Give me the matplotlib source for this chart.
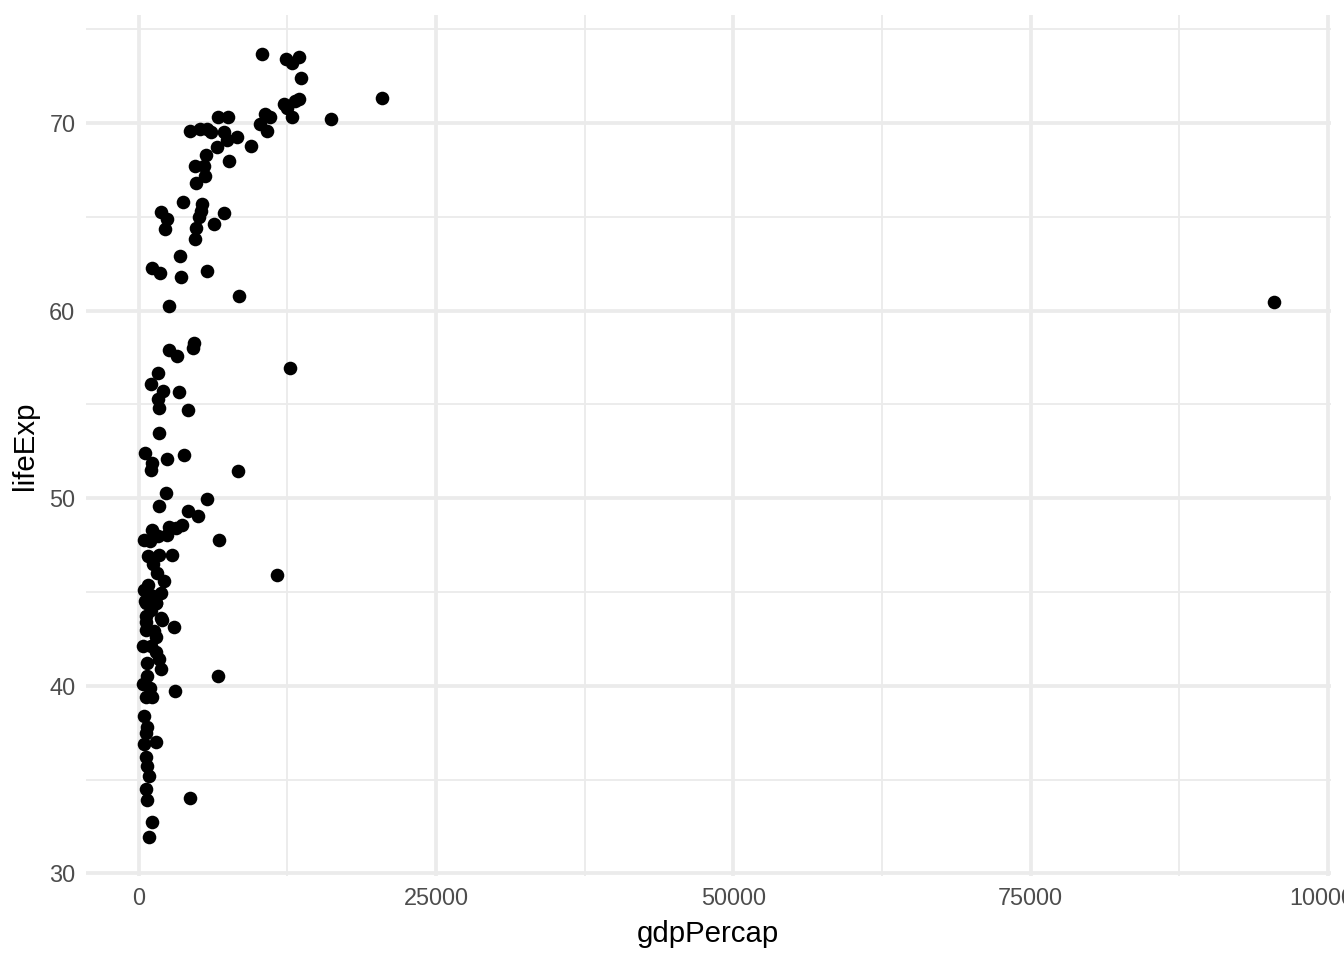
import matplotlib
matplotlib.use("Agg")
import matplotlib.pyplot as plt
from matplotlib.ticker import MultipleLocator

plt.rcParams['font.family'] = ['Liberation Sans', 'DejaVu Sans']

# gdp per capita vs life expectancy, one point per country
gdpPercap = [
    10350, 12370, 12880, 13470, 13640, 20431, 13470, 13130, 12200, 12460,
    12880, 16173, 10600, 11030, 10190, 10770, 9430, 6650, 7490, 4290,
    5130, 5720, 6060, 7150, 7410, 8250, 6570, 5640, 7580, 4710,
    5470, 5560, 4800, 3700, 5300, 5220, 5050, 1850, 2360, 2190,
    4800, 7150, 6310, 4710, 3450, 1090, 1770, 3540, 5720, 8420,
    2530, 4630, 4550, 2530, 3200, 12753, 1600, 1010, 2020, 3370,
    1600, 1680, 4120, 1680, 505, 1090, 1010, 2360, 3790, 8330,
    2270, 1680, 5720, 4120, 4970, 3620, 3110, 2530, 2360, 1090,
    420, 930, 1600, 6730, 1680, 2780, 1180, 1520, 11620, 760,
    420, 1850, 505, 1430, 1010, 590, 1850, 590, 1430, 590,
    1940, 2950, 590, 1430, 340, 1010, 1430, 1680, 670, 1850,
    670, 340, 6650, 590, 1090, 3030, 420, 670, 590, 420,
    1430, 590, 670, 840, 590, 670, 4290, 1090, 840, 95458,
    1250, 2100, 780, 1300, 950,
]
lifeExp = [
    73.68, 73.4, 73.2, 73.5, 72.4, 71.32, 71.3, 71.2, 71.0, 70.8,
    70.3, 70.21, 70.5, 70.3, 69.95, 69.6, 68.8, 70.3, 70.3, 69.6,
    69.7, 69.7, 69.5, 69.5, 69.1, 69.25, 68.7, 68.3, 68.0, 67.7,
    67.7, 67.2, 66.8, 65.8, 65.7, 65.3, 65.0, 65.25, 64.9, 64.35,
    64.4, 65.2, 64.6, 63.8, 62.9, 62.3, 62.0, 61.8, 62.1, 60.8,
    60.25, 58.3, 58.0, 57.9, 57.6, 56.92, 56.7, 56.1, 55.7, 55.65,
    55.3, 54.8, 54.7, 53.5, 52.4, 51.9, 51.5, 52.1, 52.3, 51.45,
    50.3, 49.6, 49.95, 49.3, 49.05, 48.6, 48.4, 48.45, 48.05, 48.3,
    47.8, 47.7, 48.0, 47.8, 47.0, 47.0, 46.5, 46.0, 45.9, 45.4,
    45.1, 44.95, 44.5, 44.4, 44.05, 43.7, 43.6, 44.4, 44.4, 43.4,
    43.5, 43.15, 43.0, 42.6, 42.1, 42.1, 41.8, 41.45, 41.2, 40.9,
    40.5, 40.1, 40.5, 39.4, 39.4, 39.7, 38.4, 37.8, 37.5, 36.9,
    37.0, 36.2, 35.75, 35.2, 34.5, 33.9, 34.0, 32.75, 31.95, 60.47,
    44.8, 45.6, 46.9, 42.9, 39.9,
]

fig = plt.figure(figsize=(7, 5), dpi=192)
ax = fig.add_axes([0.064, 0.0875, 0.926, 0.897])

ax.scatter(gdpPercap, lifeExp, s=26, color='black', linewidths=0, zorder=3)

# ggplot-style 5% expansion
xlo, xhi = min(gdpPercap), max(gdpPercap)
ylo, yhi = min(lifeExp), max(lifeExp)
xpad = (xhi - xlo) * 0.05
ypad = (yhi - ylo) * 0.05
ax.set_xlim(xlo - xpad, xhi + xpad)
ax.set_ylim(ylo - ypad, yhi + ypad)

ax.xaxis.set_major_locator(MultipleLocator(25000))
ax.xaxis.set_minor_locator(MultipleLocator(12500))
ax.yaxis.set_major_locator(MultipleLocator(10))
ax.yaxis.set_minor_locator(MultipleLocator(5))

ax.grid(which='major', color='#EBEBEB', linewidth=1.4)
ax.grid(which='minor', color='#EBEBEB', linewidth=0.7)
ax.set_axisbelow(True)
for s in ax.spines.values():
    s.set_visible(False)
ax.tick_params(which='both', length=0, labelsize=8.8, labelcolor='#4D4D4D', pad=4)

ax.set_xlabel('gdpPercap', fontsize=11, labelpad=4)
ax.set_ylabel('lifeExp', fontsize=11, labelpad=4)

fig.savefig('out.png', dpi=192)
